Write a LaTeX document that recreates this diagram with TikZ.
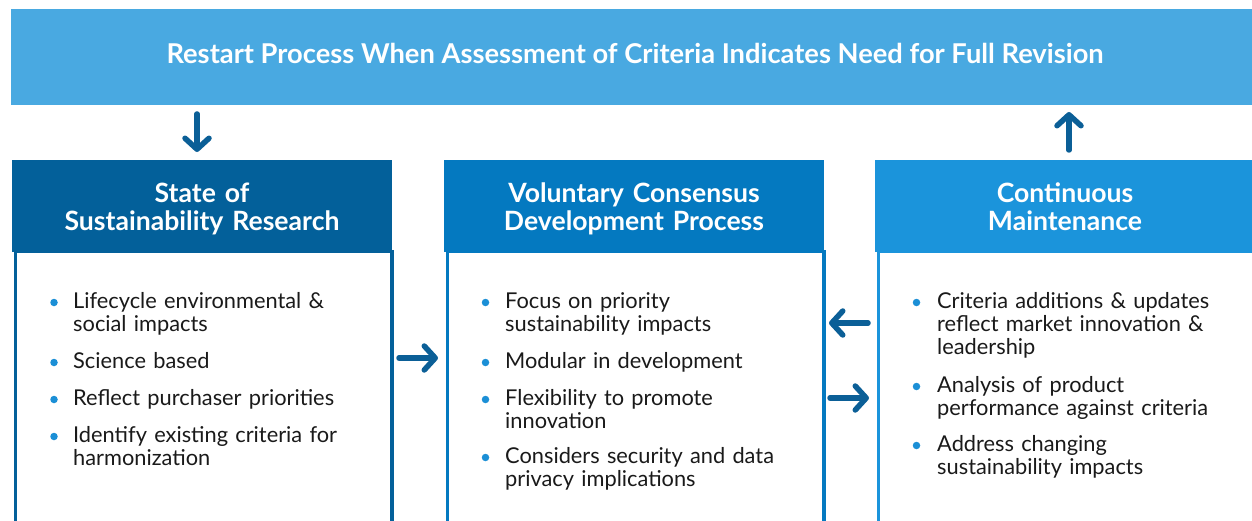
\documentclass[tikz,border=0pt]{standalone}
\usepackage{fontspec}
\setmainfont{Lato}
\usetikzlibrary{arrows.meta}
\definecolor{bannerc}{HTML}{49A9E1}
\definecolor{hone}{HTML}{03609A}
\definecolor{htwo}{HTML}{0479C0}
\definecolor{hthree}{HTML}{1B94DB}
\definecolor{arrc}{HTML}{0B5F97}
\definecolor{bulc}{HTML}{1B8FD6}
\definecolor{txtc}{HTML}{1A1A1A}
\tikzset{
  hdrbox/.style={anchor=north west, inner sep=0pt, minimum width=380pt, minimum height=92pt},
  bodybox/.style={anchor=north west, inner sep=0pt, line width=3.5pt, minimum width=376.5pt, minimum height=300pt},
  hdrtext/.style={anchor=base, inner sep=0pt, text width=370pt, align=center, text=white,
    font=\fontsize{26.6}{28}\selectfont\bfseries},
  item/.style={anchor=base west, inner sep=0pt, text width=310pt, align=left, text=txtc,
    font=\fontsize{21.8}{23.3}\selectfont},
  bul/.style={circle, fill=bulc, inner sep=0pt, minimum size=7.5pt},
  arr/.style={draw=arrc, line width=5.5pt, line cap=round,
    -{Straight Barb[round, length=11pt, width=24pt]}},
}
\begin{document}
\begin{tikzpicture}[x=1pt,y=-1pt]
\clip (0,0) rectangle (1252,521);
\fill[white] (0,0) rectangle (1252,521);
% banner
\node[fill=bannerc, anchor=north west, inner sep=0pt, minimum width=1241pt, minimum height=96pt] (banner) at (11,9) {};
\node[anchor=base, inner sep=0pt, text=white, font=\fontsize{27.3}{30}\selectfont\bfseries] (bannertext) at (635,64)
  {Restart Process When Assessment of Criteria Indicates Need for Full Revision};
% boxes
\node[bodybox, draw=hone] (body1) at (13.75,250) {};
\node[bodybox, draw=htwo] (body2) at (445.75,250) {};
\node[bodybox, draw=hthree] (body3) at (876.75,250) {};
\node[hdrbox, fill=hone] (h1) at (12,160) {};
\node[hdrbox, fill=htwo] (h2) at (444,160) {};
\node[hdrbox, fill=hthree] (h3) at (875,160) {};
\node[hdrtext] (t1) at (202,203) {State of\\Sustainability Research};
\node[hdrtext] (t2) at (634,203) {Voluntary Consensus\\Development Process};
\node[hdrtext] (t3) at (1065,203) {Continuous\\Maintenance};
% box 1 items
\node[bul] (d11) at (54,302.5) {};
\node[item] (i11) at (73,308) {Lifecycle environmental \&\\social impacts};
\node[bul] (d12) at (54,362.5) {};
\node[item] (i12) at (73,368) {Science based};
\node[bul] (d13) at (54,399.5) {};
\node[item] (i13) at (73,405) {Reflect purchaser priorities};
\node[bul] (d14) at (54,436.5) {};
\node[item] (i14) at (73,442) {Identify existing criteria for\\harmonization};
% box 2 items
\node[bul] (d21) at (485.5,302.5) {};
\node[item] (i21) at (505,308) {Focus on priority\\sustainability impacts};
\node[bul] (d22) at (485.5,362.5) {};
\node[item] (i22) at (505,368) {Modular in development};
\node[bul] (d23) at (485.5,399.5) {};
\node[item] (i23) at (505,405) {Flexibility to promote\\innovation};
\node[bul] (d24) at (485.5,457.5) {};
\node[item] (i24) at (505,463) {Considers security and data\\privacy implications};
% box 3 items
\node[bul] (d31) at (916.5,302.5) {};
\node[item] (i31) at (937,308) {Criteria additions \& updates\\reflect market innovation \&\\leadership};
\node[bul] (d32) at (916.5,386.5) {};
\node[item] (i32) at (937,392) {Analysis of product\\performance against criteria};
\node[bul] (d33) at (916.5,445.5) {};
\node[item] (i33) at (937,451) {Address changing\\sustainability impacts};
% arrows
\coordinate (downs) at (197,114);
\coordinate (downe) at (197,152);
\coordinate (ups) at (1069,150);
\coordinate (upe) at (1069,112);
\coordinate (r1s) at (399,358);
\coordinate (r1e) at (438,358);
\coordinate (ls) at (868,323);
\coordinate (le) at (829,323);
\coordinate (r2s) at (830,398);
\coordinate (r2e) at (869,398);
\draw[arr] (downs) -- (downe);
\draw[arr] (ups) -- (upe);
\draw[arr] (r1s) -- (r1e);
\draw[arr] (ls) -- (le);
\draw[arr] (r2s) -- (r2e);
\end{tikzpicture}
\end{document}
